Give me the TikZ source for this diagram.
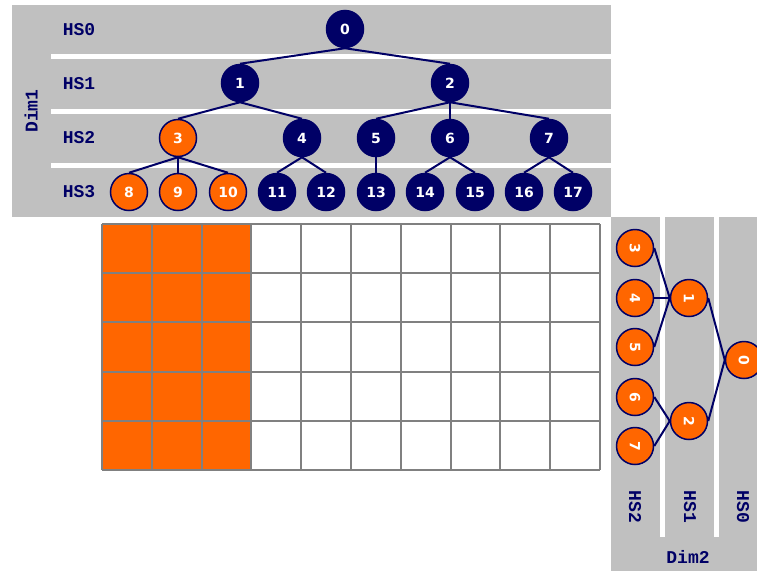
\documentclass[tikz,border=0pt]{standalone}
\usepackage{fontspec}
\newfontfamily\labfam{Liberation Mono}
\newfontfamily\numfam{DejaVu Sans}
\definecolor{navy}{RGB}{0,0,102}
\definecolor{org}{RGB}{255,102,0}
\definecolor{panel}{RGB}{192,192,192}
\definecolor{gridc}{RGB}{128,128,128}
\tikzset{
  tn/.style={circle, minimum size=37pt, inner sep=0pt, fill=navy, draw=navy, line width=1.5pt, text=white,
    font=\numfam\bfseries\fontsize{14}{14}\selectfont},
  on/.style={tn, fill=org},
  edge/.style={draw=navy, line width=2pt},
  lab/.style={text=navy, font=\labfam\bfseries\fontsize{18}{18}\selectfont, inner sep=0pt},
  gl/.style={draw=gridc, line width=2pt}
}
\begin{document}
\begin{tikzpicture}[x=1pt,y=-1pt]
\useasboundingbox (0,0) rectangle (757,571);
% top panel
\fill[panel] (12,5) rectangle (611,217);
\foreach \y in {54,108.5,163} \fill[white] (51,\y) rectangle (611,\y+5);
% right panel
\fill[panel] (611,217) rectangle (757,571);
\foreach \x in {660,714} \fill[white] (\x,217) rectangle (\x+5,537);
% grid
\fill[org] (102,224) rectangle (251.4,470);
\foreach \i in {0,...,10} \draw[gl] (102+49.8*\i,224) -- (102+49.8*\i,470);
\foreach \j in {0,...,5} \draw[gl] (102,224+49.2*\j) -- (600,224+49.2*\j);
% labels
\node[lab] (l0) at (79,29.5) {HS0};
\node[lab] (l1) at (79,83.5) {HS1};
\node[lab] (l2) at (79,138) {HS2};
\node[lab] (l3) at (79,192) {HS3};
\node[lab, rotate=90] (d1) at (31,111) {Dim1};
\node[lab] (d2) at (688,557) {Dim2};
\node[lab, rotate=-90] (r2l) at (635,507) {HS2};
\node[lab, rotate=-90] (r1l) at (690,507) {HS1};
\node[lab, rotate=-90] (r0l) at (743,507) {HS0};
% top tree
\node[tn] (n0) at (345,29) {0};
\node[tn] (n1) at (240,83) {1};
\node[tn] (n2) at (450,83) {2};
\node[on] (n3) at (178,138) {3};
\node[tn] (n4) at (302,138) {4};
\node[tn] (n5) at (376,138) {5};
\node[tn] (n6) at (450,138) {6};
\node[tn] (n7) at (549,138) {7};
\node[on] (n8) at (129,192) {8};
\node[on] (n9) at (178,192) {9};
\node[on] (n10) at (228,192) {10};
\node[tn] (n11) at (277,192) {11};
\node[tn] (n12) at (326,192) {12};
\node[tn] (n13) at (376,192) {13};
\node[tn] (n14) at (425,192) {14};
\node[tn] (n15) at (475,192) {15};
\node[tn] (n16) at (524,192) {16};
\node[tn] (n17) at (573,192) {17};
\foreach \p/\c in {n0/n1,n0/n2,n1/n3,n1/n4,n2/n5,n2/n6,n2/n7,n3/n8,n3/n9,n3/n10,n4/n11,n4/n12,n5/n13,n6/n14,n6/n15,n7/n16,n7/n17}
  \draw[edge] (\p.south) -- (\c.north);
% right tree
\node[on] (r3) at (635,248) {\rotatebox{-90}{3}};
\node[on] (r4) at (635,298) {\rotatebox{-90}{4}};
\node[on] (r5) at (635,347) {\rotatebox{-90}{5}};
\node[on] (r6) at (635,397) {\rotatebox{-90}{6}};
\node[on] (r7) at (635,446) {\rotatebox{-90}{7}};
\node[on] (r1) at (689,298) {\rotatebox{-90}{1}};
\node[on] (r2) at (689,421) {\rotatebox{-90}{2}};
\node[on] (r0) at (744,360) {\rotatebox{-90}{0}};
\foreach \p/\c in {r0/r1,r0/r2,r1/r3,r1/r4,r1/r5,r2/r6,r2/r7}
  \draw[edge] (\p.west) -- (\c.east);
\end{tikzpicture}
\end{document}
